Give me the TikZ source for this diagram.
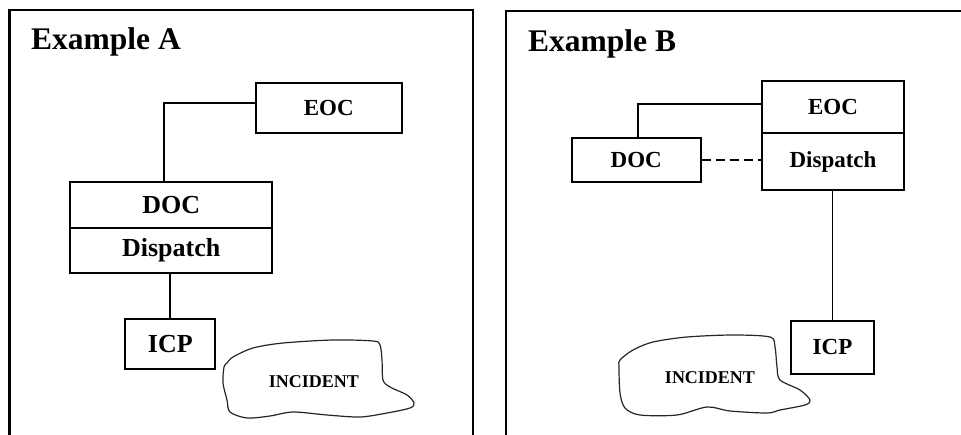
\documentclass[tikz,border=0pt]{standalone}
\usepackage{fontspec}
\setmainfont{Liberation Serif}
\begin{document}
\begin{tikzpicture}[x=1pt,y=-1pt,
  box/.style={draw,line width=2pt,inner sep=0pt,font=\bfseries\fontsize{23}{25}\selectfont},
  bigbox/.style={box,font=\bfseries\fontsize{26}{28}\selectfont},
  conn/.style={line width=1.8pt},
  frame/.style={line width=2.4pt},
  cloud/.style={line width=1.2pt,draw=black!85},
  title/.style={anchor=base west,inner sep=0pt,font=\bfseries\fontsize{31.5}{33}\selectfont},
  inc/.style={inner sep=0pt,font=\bfseries\fontsize{18}{20}\selectfont}]
\useasboundingbox (0,0) rectangle (961,434);
\fill[white] (0,0) rectangle (961,434);
% frames
\draw[frame] (9.5,440) -- (9.5,10) -- (473,10) -- (473,440);
\draw[frame] (506,440) -- (506,11) -- (970,11);
% Example A
\node[title] (tA) at (31,49.3) {Example A};
\node[box,minimum width=146pt,minimum height=50pt] (eocA) at (328.7,108.3) {EOC};
\node[bigbox,minimum width=202.3pt,minimum height=46.6pt] (docA) at (171.2,205) {DOC};
\node[bigbox,minimum width=202.3pt,minimum height=44.4pt] (dispA) at (171.2,250.5) {Dispatch};
\node[bigbox,minimum width=90pt,minimum height=50pt] (icpA) at (170.3,344.3) {ICP};
\draw[conn] ([yshift=5pt]eocA.west) -| ([xshift=-6.9pt]docA.north);
\draw[conn] (icpA.north |- dispA.south) -- (icpA.north);
\draw[cloud] plot[smooth cycle,tension=0.5] coordinates {(227,363) (233,357) (253,348) (283,343) (333,340) (373,341) (380,345) (382,360) (383,380) (390,387) (407,395) (414,403) (410,408) (387,413) (360,417) (327,415) (293,412) (270,416) (247,418) (230,412) (227,400) (223,383) (224,367)};
\node[inc] (incA) at (314,381.7) {INCIDENT};
% Example B
\node[title] (tB) at (528,51.7) {Example B};
\node[box,minimum width=142.6pt,minimum height=52.6pt] (eocB) at (833,107) {EOC};
\node[box,minimum width=142.6pt,minimum height=56.7pt] (dispB) at (833,161.7) {Dispatch};
\node[box,minimum width=129pt,minimum height=44.6pt] (docB) at (636.2,160) {DOC};
\node[box,minimum width=83.6pt,minimum height=53.3pt] (icpB) at (832.5,347.3) {ICP};
\draw[conn] ([yshift=2.7pt]eocB.west) -| ([xshift=1.5pt]docB.north);
\draw[conn,dash pattern=on 9pt off 5pt] (docB.east) -- (docB.east -| dispB.west);
\draw[conn] (icpB.north |- dispB.south) -- (icpB.north);
\draw[cloud] plot[smooth cycle,tension=0.5] coordinates {(620,360) (633,350) (653,342) (687,337) (733,335) (770,337) (775,347) (777,367) (780,380) (800,390) (810,400) (805,405) (780,410) (767,413) (730,411) (707,407) (677,415) (640,415) (625,408) (620,393) (619,367)};
\node[inc] (incB) at (710,377.7) {INCIDENT};
\end{tikzpicture}
\end{document}
